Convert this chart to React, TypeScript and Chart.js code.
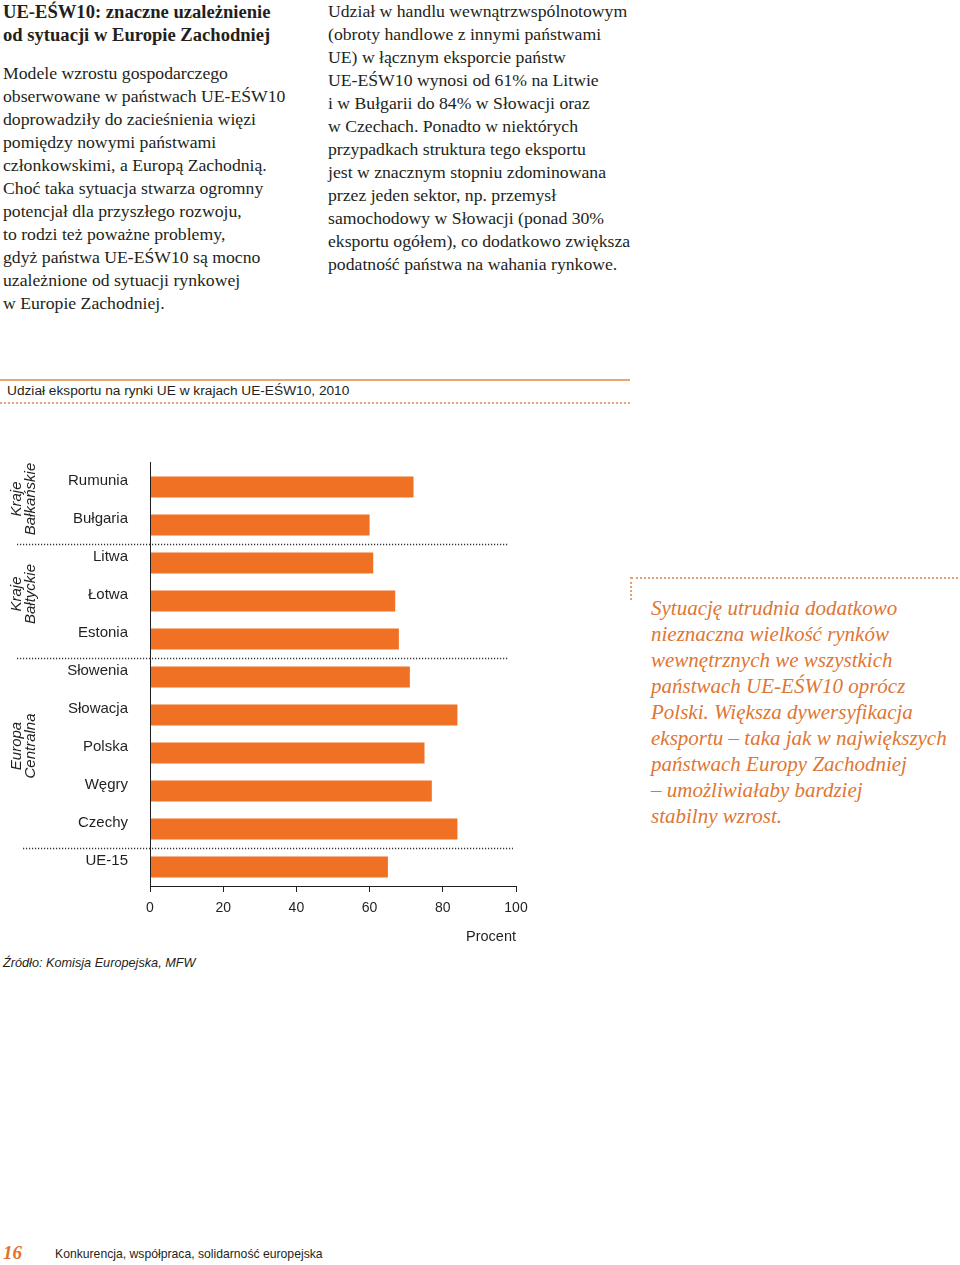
import React, { useEffect, useRef } from "react";
import { Chart, registerables } from "chart.js";

Chart.register(...registerables);

const categories = ["Rumunia", "Bułgaria", "Litwa", "Łotwa", "Estonia", "Słowenia", "Słowacja", "Polska", "Węgry", "Czechy", "UE-15"];
const values = [72, 60, 61, 67, 68, 71, 84, 75, 77, 84, 65];
const groupLabels = [["Kraje", "Bałkańskie"], ["Kraje", "Bałtyckie"], ["Europa", "Centralna"]];
const groupStart = [0, 2, 5];
const groupEnd = [1, 4, 9];
const separatorsAfter = [1, 4, 9];
const xTickMin = 0;
const xTickMax = 100;
const xTickStep = 20;

const chartTitle = "Udział eksportu na rynki UE w krajach UE-EŚW10, 2010";
const xAxisTitle = "Procent";
const sourceText = "Źródło: Komisja Europejska, MFW";

const headLines = ["UE-EŚW10: znaczne uzależnienie", "od sytuacji w Europie Zachodniej"];
const leftLines = [
  "Modele wzrostu gospodarczego",
  "obserwowane w państwach UE-EŚW10",
  "doprowadziły do zacieśnienia więzi",
  "pomiędzy nowymi państwami",
  "członkowskimi, a Europą Zachodnią.",
  "Choć taka sytuacja stwarza ogromny",
  "potencjał dla przyszłego rozwoju,",
  "to rodzi też poważne problemy,",
  "gdyż państwa UE-EŚW10 są mocno",
  "uzależnione od sytuacji rynkowej",
  "w Europie Zachodniej.",
];
const rightLines = [
  "Udział w handlu wewnątrzwspólnotowym",
  "(obroty handlowe z innymi państwami",
  "UE) w łącznym eksporcie państw",
  "UE-EŚW10 wynosi od 61% na Litwie",
  "i w Bułgarii do 84% w Słowacji oraz",
  "w Czechach. Ponadto w niektórych",
  "przypadkach struktura tego eksportu",
  "jest w znacznym stopniu zdominowana",
  "przez jeden sektor, np. przemysł",
  "samochodowy w Słowacji (ponad 30%",
  "eksportu ogółem), co dodatkowo zwiększa",
  "podatność państwa na wahania rynkowe.",
];
const quoteLines = [
  "Sytuację utrudnia dodatkowo",
  "nieznaczna wielkość rynków",
  "wewnętrznych we wszystkich",
  "państwach UE-EŚW10 oprócz",
  "Polski. Większa dywersyfikacja",
  "eksportu – taka jak w największych",
  "państwach Europy Zachodniej",
  "– umożliwiałaby bardziej",
  "stabilny wzrost.",
];
const pageNumber = "16";
const footerText = "Konkurencja, współpraca, solidarność europejska";

const SANS = "'Liberation Sans', Arial, Helvetica, sans-serif";
const SERIF = "'Liberation Serif', 'Times New Roman', serif";
const TEXT = "#231f20";
const BAR = "#f07024";
const ORANGE = "#de7634";

const decorPlugin = {
  id: "decor",
  afterDraw(chart: any) {
    const { ctx, chartArea, scales } = chart;
    const y = scales.y;
    const band = Math.abs(y.getPixelForValue(1) - y.getPixelForValue(0));
    ctx.save();
    // vertical axis line
    ctx.strokeStyle = TEXT;
    ctx.lineWidth = 1;
    ctx.beginPath();
    ctx.moveTo(chartArea.left + 0.5, chartArea.top - 6);
    ctx.lineTo(chartArea.left + 0.5, chartArea.bottom);
    ctx.stroke();
    // dotted separators
    ctx.setLineDash([1.2, 1.8]);
    ctx.lineWidth = 1.3;
    ctx.strokeStyle = "#333";
    separatorsAfter.forEach((idx, i) => {
      const yy = Math.round(y.getPixelForValue(idx) + band / 2) + 0.5;
      const x0 = i === separatorsAfter.length - 1 ? 23 : 17;
      const x1 = i === separatorsAfter.length - 1 ? chartArea.right - 3 : chartArea.right - 7;
      ctx.beginPath();
      ctx.moveTo(x0, yy);
      ctx.lineTo(x1, yy);
      ctx.stroke();
    });
    ctx.setLineDash([]);
    // group labels
    ctx.fillStyle = TEXT;
    ctx.font = `italic 15px ${SANS}`;
    ctx.textAlign = "center";
    ctx.textBaseline = "middle";
    groupLabels.forEach((lines, g) => {
      const yc = (y.getPixelForValue(groupStart[g]) + y.getPixelForValue(groupEnd[g])) / 2 - 7;
      ctx.save();
      ctx.translate(24, yc);
      ctx.rotate(-Math.PI / 2);
      ctx.fillText(lines[0], 0, -7);
      ctx.fillText(lines[1], 0, 7);
      ctx.restore();
    });
    ctx.restore();
  },
};

function BarChart() {
  const ref = useRef<HTMLCanvasElement | null>(null);
  useEffect(() => {
    if (!ref.current) return;
    const chart = new Chart(ref.current, {
      type: "bar",
      data: {
        labels: categories,
        datasets: [
          {
            data: values,
            backgroundColor: BAR,
            borderWidth: 0,
            categoryPercentage: 1,
            barPercentage: 0.55,
          },
        ],
      },
      options: {
        indexAxis: "y",
        animation: false,
        responsive: false,
        layout: { padding: { top: 28, right: 24, left: 0, bottom: 0 } },
        plugins: { legend: { display: false }, tooltip: { enabled: false } },
        scales: {
          x: {
            type: "linear",
            min: xTickMin,
            max: xTickMax,
            ticks: { stepSize: xTickStep, color: TEXT, font: { family: SANS, size: 14 }, padding: 8 },
            grid: { drawOnChartArea: false, drawTicks: true, tickLength: 6, tickColor: TEXT, lineWidth: 1 },
            border: { display: true, color: TEXT, width: 1 },
            title: {
              display: true,
              text: xAxisTitle,
              align: "end",
              color: TEXT,
              font: { family: SANS, size: 14.5 },
              padding: { top: 0, bottom: 0 },
            },
            afterFit: (s: any) => {
              s.height = 60;
            },
          },
          y: {
            type: "category",
            grid: { display: false },
            border: { display: false },
            ticks: { color: TEXT, font: { family: SANS, size: 15 }, padding: 14, labelOffset: -6 },
            afterFit: (s: any) => {
              s.width = 150;
            },
          },
        },
      } as any,
      plugins: [decorPlugin],
    });
    return () => chart.destroy();
  }, []);
  return <canvas ref={ref} width={540} height={506} style={{ display: "block" }} />;
}

const abs = (left: number, top: number, extra: React.CSSProperties = {}): React.CSSProperties => ({
  position: "absolute",
  left,
  top,
  whiteSpace: "nowrap",
  ...extra,
});

export default function App() {
  return (
    <div style={{ position: "absolute", left: 0, top: 0, width: 960, height: 1265, background: "#fff", overflow: "hidden", color: TEXT }}>
      <div style={abs(3, 0, { fontFamily: SERIF, fontWeight: "bold", fontSize: 18.6, lineHeight: "23px" })}>
        {headLines.map((l, i) => (
          <div key={i}>{l}</div>
        ))}
      </div>
      <div style={abs(3, 62, { fontFamily: SERIF, fontSize: 17.7, lineHeight: "23px" })}>
        {leftLines.map((l, i) => (
          <div key={i}>{l}</div>
        ))}
      </div>
      <div style={abs(328, 0, { fontFamily: SERIF, fontSize: 17.7, lineHeight: "23px" })}>
        {rightLines.map((l, i) => (
          <div key={i}>{l}</div>
        ))}
      </div>

      <div style={abs(0, 379, { width: 630, height: 0, borderTop: "2px solid #eba374" })} />
      <div style={abs(7, 382, { fontFamily: SANS, fontSize: 13.7, lineHeight: "18px" })}>{chartTitle}</div>
      <div style={abs(0, 402, { width: 630, height: 0, borderTop: "2px dotted #eba374" })} />

      <div style={abs(0, 440, { width: 540, height: 506 })}>
        <BarChart />
      </div>

      <div style={abs(3, 955, { fontFamily: SANS, fontSize: 12.7, fontStyle: "italic", lineHeight: "16px" })}>{sourceText}</div>

      <div style={abs(631, 577, { width: 327, height: 0, borderTop: "2px dotted #e6a06e" })} />
      <div style={abs(630, 577, { width: 0, height: 23, borderLeft: "2px dotted #e6a06e" })} />
      <div style={abs(651, 595, { fontFamily: SERIF, fontStyle: "italic", fontSize: 21, lineHeight: "26px", color: ORANGE })}>
        {quoteLines.map((l, i) => (
          <div key={i}>{l}</div>
        ))}
      </div>

      <div style={abs(3, 1242, { fontFamily: SERIF, fontStyle: "italic", fontWeight: "bold", fontSize: 19, lineHeight: "22px", color: "#e0702a" })}>{pageNumber}</div>
      <div style={abs(55, 1246, { fontFamily: SANS, fontSize: 12.2, lineHeight: "16px" })}>{footerText}</div>
    </div>
  );
}
